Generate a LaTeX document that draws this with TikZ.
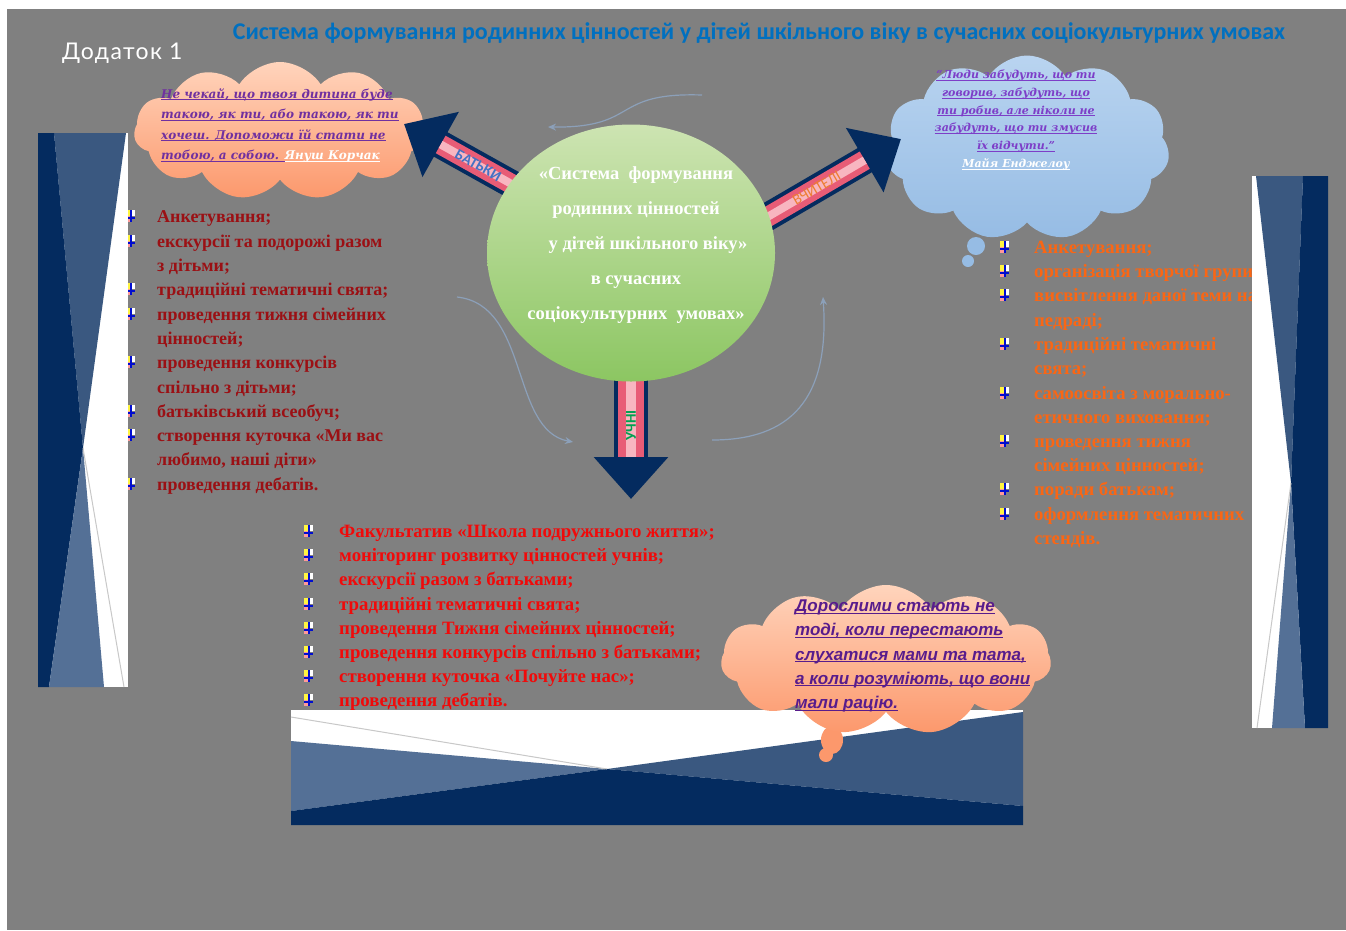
\documentclass[tikz,border=0pt]{standalone}
\usepackage{fontspec}
\setmainfont{Liberation Serif}
\newfontfamily\calibri{Carlito}
\newfontfamily\gothic{Lato}
\newfontfamily\quotefont{DejaVu Serif}
\newfontfamily\quotesans{Liberation Sans}
\usetikzlibrary{shapes.symbols,shapes.geometric,arrows.meta}

\pgfdeclarelayer{front}
\pgfsetlayers{main,front}

\definecolor{bggray}{RGB}{128,128,128}
\definecolor{titleblue}{RGB}{0,112,192}
\definecolor{navyd}{RGB}{4,43,95}
\definecolor{bluem}{RGB}{58,88,128}
\definecolor{bluel}{RGB}{84,112,150}
\definecolor{linegray}{RGB}{200,200,200}
\definecolor{peachtop}{RGB}{255,212,188}
\definecolor{peachbot}{RGB}{252,152,108}
\definecolor{skytop}{RGB}{185,212,240}
\definecolor{skybot}{RGB}{150,188,228}
\definecolor{greentop}{RGB}{205,228,178}
\definecolor{greenbot}{RGB}{140,198,98}
\definecolor{quotepurple}{RGB}{112,48,160}
\definecolor{quoteviolet}{RGB}{125,62,200}
\definecolor{quotedark}{RGB}{88,28,140}
\definecolor{darkred}{RGB}{155,16,20}
\definecolor{orangetxt}{RGB}{250,102,20}
\definecolor{redtxt}{RGB}{240,10,10}
\definecolor{shaftpink}{RGB}{232,92,118}
\definecolor{shaftlight}{RGB}{248,182,192}
\definecolor{swirl}{RGB}{140,160,185}
\definecolor{parentblue}{RGB}{68,114,196}
\definecolor{teacherorange}{RGB}{237,125,49}
\definecolor{pupilgreen}{RGB}{0,160,80}

\newcommand\qline[1]{\underline{\smash{#1}}}

\tikzset{
  cloudbox/.style={cloud, cloud puffs=11, cloud puff arc=115, cloud ignores aspect, inner sep=0pt},
  quote/.style={inner sep=0pt, font=\quotefont\bfseries\itshape\fontsize{12}{20.5}\selectfont},
  listline/.style={anchor=west, inner sep=0pt, text height=12pt, text depth=3pt,
    font=\bfseries\fontsize{#1}{#1}\selectfont},
  shaftout/.style={line width=#1, navyd, -{Triangle[length=42pt,width=72pt]}},
  shaftin/.style={line width=#1, shaftpink, shorten >=42pt},
  shaftmid/.style={line width=#1, shaftlight, shorten >=42pt},
  armlabel/.style={inner sep=0pt, font=\calibri\bfseries\fontsize{15}{15}\selectfont},
  swirlarrow/.style={swirl, line width=1.2pt, -{Stealth[length=8pt,width=7pt]}},
  bullet/.pic={
    \fill[yellow!75!white] (-4,-6) rectangle (0,0);
    \fill[pink!80!red] (-4,0) rectangle (0,6);
    \fill[white] (1,-6) rectangle (5,0);
    \fill[blue!70!navyd] (0,-6) rectangle (2,6);
    \fill[blue!70!navyd] (-4,1) rectangle (5,3);
  }
}

\begin{document}
\begin{tikzpicture}[x=1pt,y=-1pt]
\useasboundingbox (0,0) rectangle (1346,930);
\fill[white] (0,0) rectangle (1346,930);
\fill[bggray] (7,9) rectangle (1346,930);

% heading
\node[font=\calibri\bfseries\fontsize{24}{26}\selectfont, text=titleblue] (title) at (759,33)
  {Система формування родинних цінностей у дітей шкільного віку в сучасних соціокультурних умовах};
\node[font=\gothic\addfontfeature{LetterSpace=6}\fontsize{23}{26}\selectfont, text=white, anchor=west, inner sep=0pt] (dodatok) at (62,53) {Додаток 1};

% parents list
\foreach \y/\t in {218/{Анкетування;}, 243/{екскурсії та подорожі разом}, 267/{з дітьми;},
  291/{традиційні тематичні свята;}, 316/{проведення тижня сімейних}, 340/{цінностей;},
  364/{проведення конкурсів}, 389/{спільно з дітьми;}, 413/{батьківський всеобуч;},
  437/{створення куточка «Ми вас}, 461/{любимо, наші діти»}, 486/{проведення дебатів.}}
  \node[listline=18, text=darkred] (par-\y) at (157,\y) {\t};
\foreach \y in {218,243,291,316,364,413,437,486}
  \pic at (130,\y-2) {bullet};

% teachers list
\foreach \y/\t in {249/{Анкетування;}, 273/{організація творчої групи;}, 297/{висвітлення даної теми на},
  322/{педраді;}, 346/{традиційні тематичні}, 370/{свята;}, 395/{самоосвіта з морально-},
  419/{етичного виховання;}, 443/{проведення тижня}, 467/{сімейних цінностей;},
  491/{поради батькам;}, 516/{оформлення тематичних}, 540/{стендів.}}
  \node[listline=18.7, text=orangetxt] (tea-\y) at (1034,\y) {\t};
\foreach \y in {249,273,297,346,395,443,491,516}
  \pic at (1004,\y-2) {bullet};

% pupils list
\foreach \y/\t in {533/{Факультатив «Школа подружнього життя»;}, 557/{моніторинг розвитку цінностей учнів;},
  581/{екскурсії разом з батьками;}, 606/{традиційні тематичні свята;},
  630/{проведення Тижня сімейних цінностей;}, 654/{проведення конкурсів спільно з батьками;},
  678/{створення куточка «Почуйте нас»;}, 702/{проведення дебатів.}}
  \node[listline=18.8, text=redtxt] (pup-\y) at (339,\y) {\t};
\foreach \y in {533,557,581,606,630,654,678,702}
  \pic at (308,\y-2) {bullet};

% side panels
\fill[white] (38,133) rectangle (128,687);
\fill[bluem] (54,133) -- (126,133) -- (83,448) -- cycle;
\fill[navyd] (38,133) -- (54,133) -- (83,448) -- (49,687) -- (38,687) -- cycle;
\fill[bluel] (83,448) -- (104,687) -- (49,687) -- cycle;
\draw[linegray, line width=1pt] (83,448) -- (124,687);

\fill[white] (1252,176) rectangle (1328,728);
\fill[bluem] (1256,176) -- (1303,176) -- (1291,483) -- cycle;
\fill[navyd] (1303,176) -- (1328,176) -- (1328,728) -- (1305,728) -- (1291,483) -- cycle;
\fill[bluel] (1291,483) -- (1305,728) -- (1272,728) -- cycle;
\draw[linegray, line width=1pt] (1291,483) -- (1257,728);

\fill[white] (291,710) rectangle (1023,825);
\fill[bluel] (291,741) -- (607,769) -- (291,811) -- cycle;
\fill[bluem] (1023,712) -- (1023,806) -- (607,769) -- cycle;
\fill[navyd] (291,811) -- (607,769) -- (1023,806) -- (1023,825) -- (291,825) -- cycle;
\draw[linegray, line width=1pt] (291,717) -- (607,769);

% clouds
\node[cloudbox, minimum width=292pt, minimum height=138pt, top color=peachtop, bottom color=peachbot] (lcloud) at (280,131) {};
\node[quote, text=quotepurple, align=left, anchor=west] (lquote) at (161,130)
  {\qline{Не чекай, що твоя дитина буде}\\
   \qline{такою, як ти, або такою, як ти}\\
   \qline{хочеш. Допоможи їй стати не}\\
   \qline{тобою, а собою. }\textcolor{white}{\qline{Януш Корчак}}};

\fill[skybot] (976,246) circle[radius=9pt];
\fill[skybot] (968,261) circle[radius=6pt];
\node[cloudbox, minimum width=285pt, minimum height=185pt, top color=skytop, bottom color=skybot] (rcloud) at (1027,148) {};
\node[quote, text=quoteviolet, align=center, font=\quotefont\bfseries\itshape\fontsize{11}{17.8}\selectfont] (rquote) at (1016,124)
  {\qline{“Люди забудуть, що ти}\\
   \qline{говорив, забудуть, що}\\
   \qline{ти робив, але ніколи не}\\
   \qline{забудуть, що ти змусив}\\
   \qline{їх відчути.”}\\
   \textcolor{white}{\qline{Майя Енджелоу}}};

\fill[peachbot] (832,740) ellipse[x radius=11pt, y radius=14pt];
\fill[peachbot] (826,755) circle[radius=7pt];
\node[cloudbox, minimum width=330pt, minimum height=150pt, top color=peachtop, bottom color=peachbot] (bcloud) at (886,660) {};
\node[quote, text=quotedark, align=left, anchor=west, font=\quotesans\bfseries\itshape\fontsize{17}{24.25}\selectfont] (bquote) at (795,661)
  {\qline{Дорослими стають не}\\
   \qline{тоді, коли перестають}\\
   \qline{слухатися мами та тата,}\\
   \qline{а коли розуміють, що вони}\\
   \qline{мали рацію.}};

% swirls round the centre
\draw[swirlarrow] (702,95) .. controls (610,92) and (640,128) .. (548,127);
\draw[swirlarrow] (457,297) .. controls (530,305) and (510,430) .. (573,442);
\draw[swirlarrow] (712,440) .. controls (790,440) and (830,400) .. (823,297);

% centre
\begin{pgfonlayer}{front}
\node[ellipse, minimum width=288pt, minimum height=257pt, inner sep=0pt, top color=greentop, bottom color=greenbot] (circ) at (631,253) {};
\node[text=white, align=center, inner sep=0pt, font=\bfseries\fontsize{18.5}{35}\selectfont] (circtext) at (636,245)
  {«Система\ \ формування\\
   родинних цінностей\\
   \hspace*{24pt}у дітей шкільного віку»\\
   в сучасних\\
   соціокультурних\ \ умовах»};
\end{pgfonlayer}

\coordinate (ptip) at (404,124);
\coordinate (ttip) at (901,139);
\coordinate (stip) at (631,499);

% arms
\draw[shaftout=28pt, shorten <=-30pt] (circ.150) -- (ptip);
\draw[shaftin=20pt, shorten <=-30pt] (circ.150) -- (ptip);
\draw[shaftmid=8pt, shorten <=-30pt] (circ.150) -- (ptip)
  node[armlabel, pos=.3, sloped, text=parentblue] (parlab) {БАТЬКИ};

\draw[shaftout=28pt, shorten <=-30pt] (circ.15) -- (ttip);
\draw[shaftin=20pt, shorten <=-30pt] (circ.15) -- (ttip);
\draw[shaftmid=8pt, shorten <=-30pt] (circ.15) -- (ttip)
  node[armlabel, pos=.36, sloped, text=teacherorange, font=\calibri\fontsize{15}{15}\selectfont] (tealab) {ВЧИТЕЛІ};

\draw[shaftout=34pt, shorten <=-30pt] (circ.south) -- (stip);
\draw[shaftin=26pt, shorten <=-30pt] (circ.south) -- (stip);
\draw[shaftmid=10pt, shorten <=-30pt] (circ.south) -- (stip)
  node[armlabel, pos=.37, rotate=90, text=pupilgreen] (puplab) {УЧНІ};
\end{tikzpicture}
\end{document}
